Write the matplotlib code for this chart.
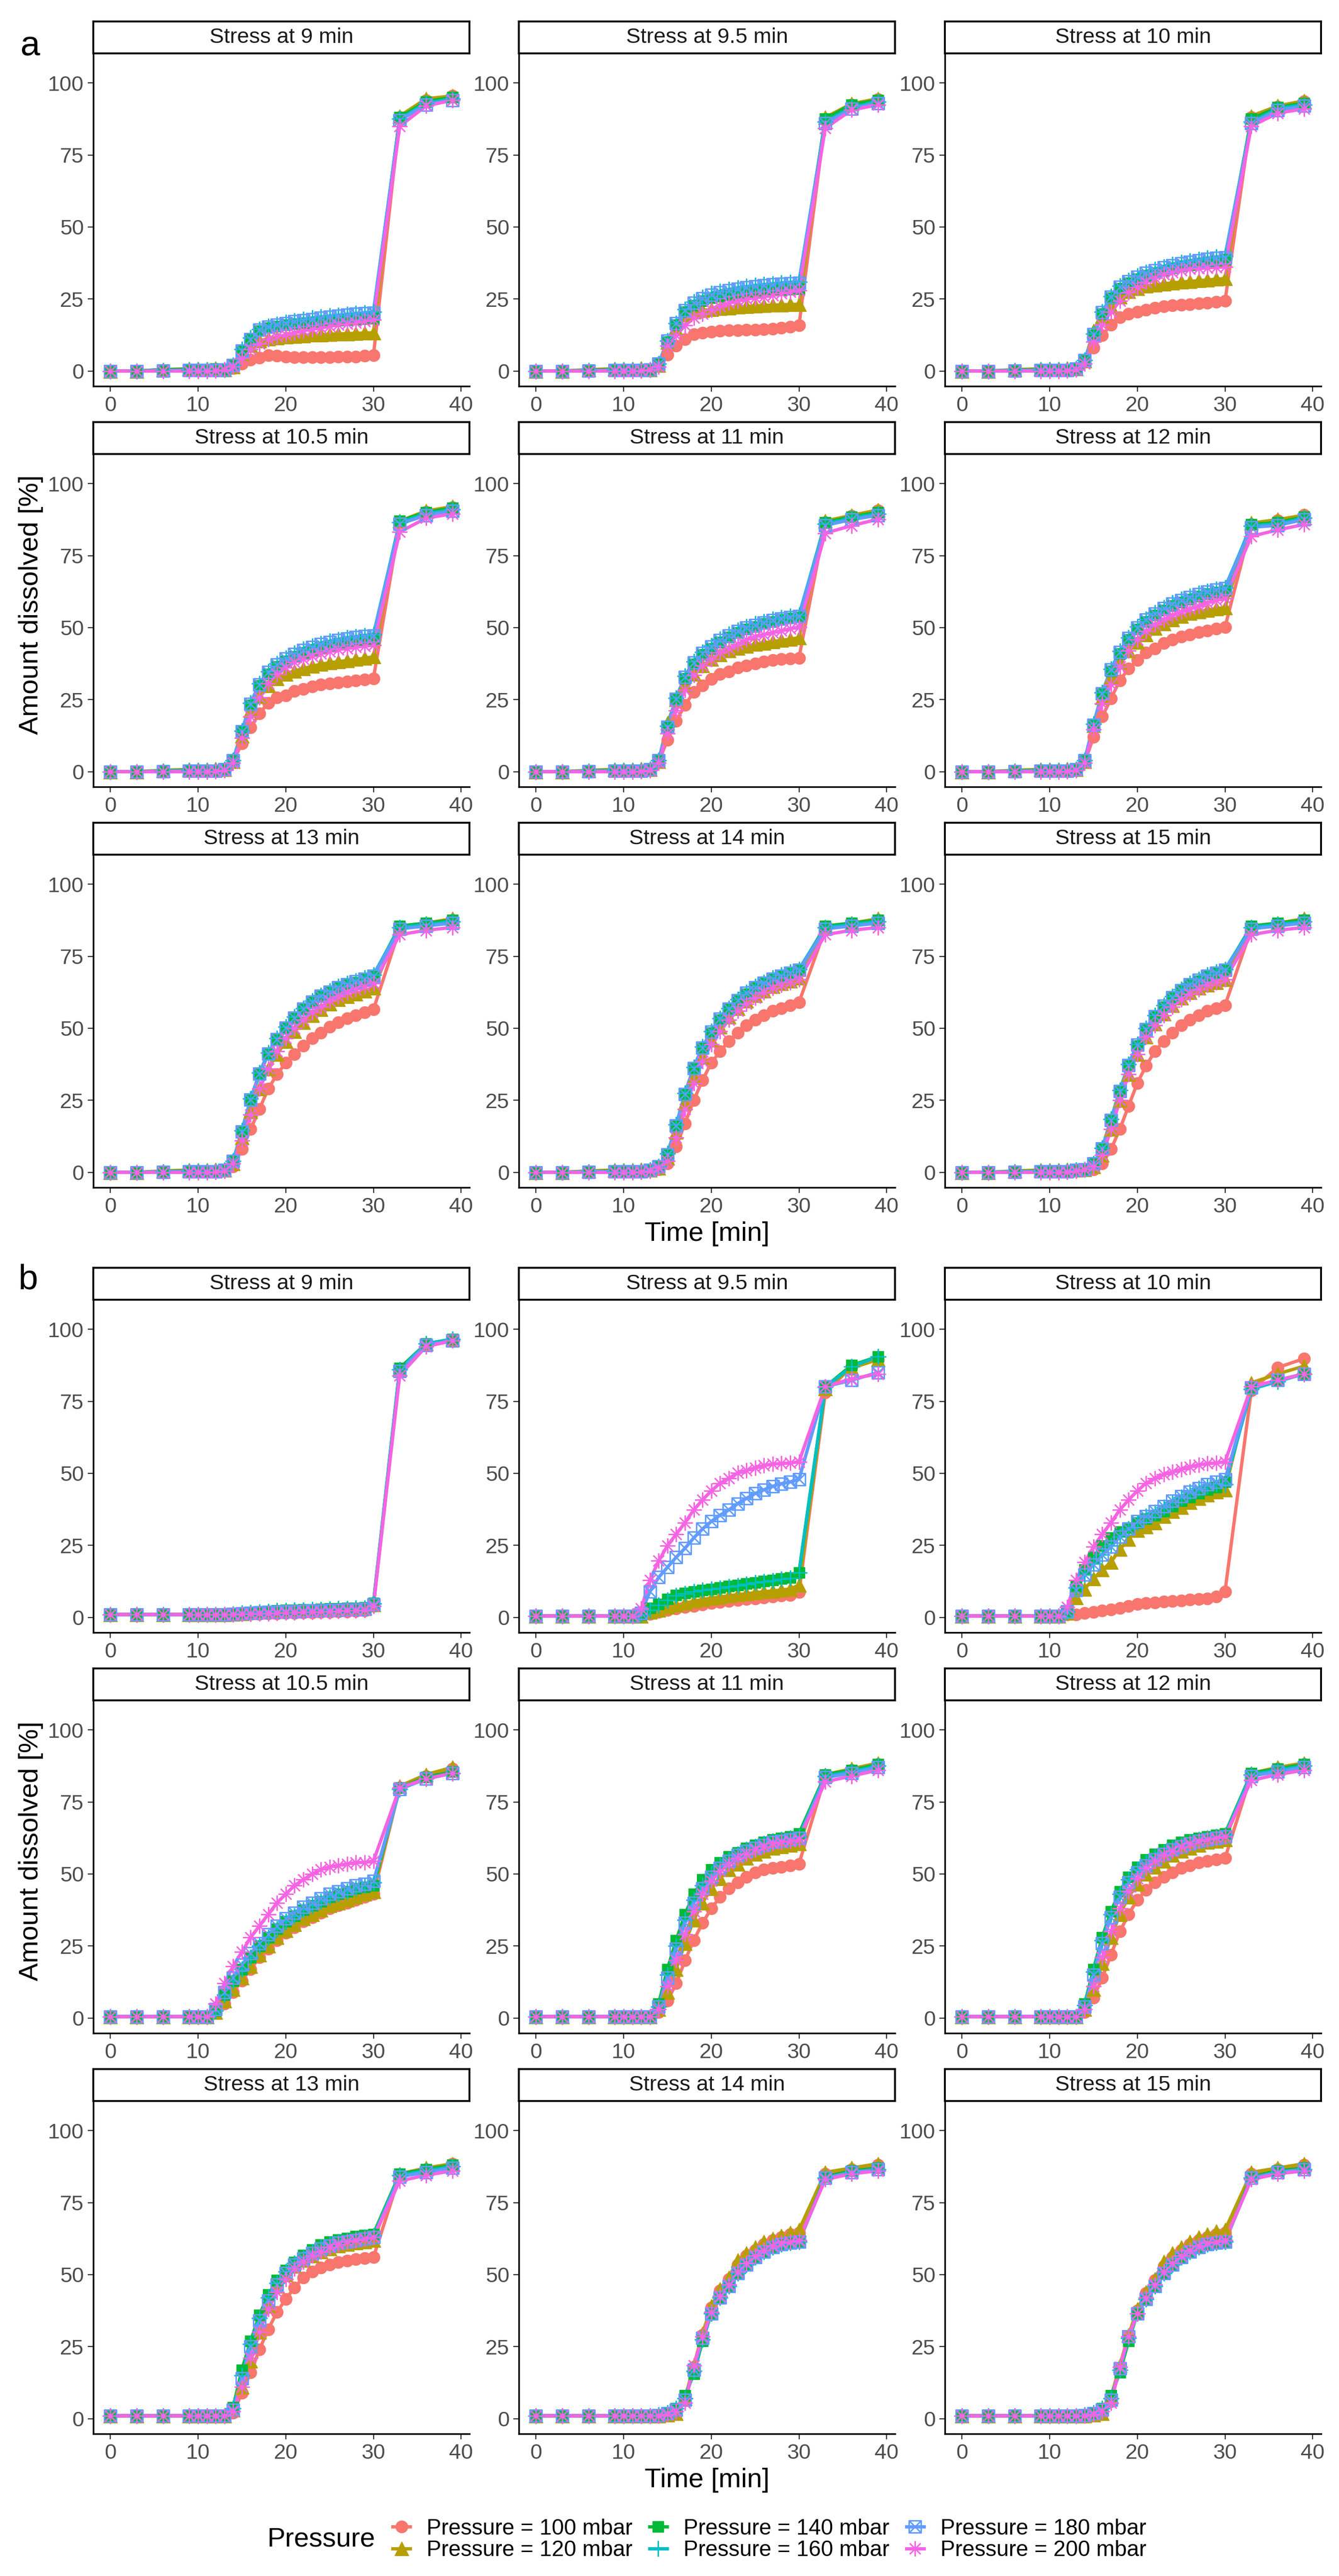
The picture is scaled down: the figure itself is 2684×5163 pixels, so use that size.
import matplotlib
matplotlib.use('Agg')
import matplotlib.pyplot as plt
from matplotlib.path import Path
from matplotlib.lines import Line2D

plt.rcParams['font.family'] = ['Liberation Sans', 'DejaVu Sans']

# sampling times [min]
time = [0, 3, 6, 9, 10, 11, 12, 13, 14, 15, 16, 17, 18, 19, 20, 21, 22, 23, 24,
        25, 26, 27, 28, 29, 30, 33, 36, 39]

pressures = ['Pressure = 100 mbar', 'Pressure = 120 mbar', 'Pressure = 140 mbar',
             'Pressure = 160 mbar', 'Pressure = 180 mbar', 'Pressure = 200 mbar']
colors = ['#F8766D', '#B79F00', '#00BA38', '#00BFC4', '#619CFF', '#F564E3']
stress_times = ['9', '9.5', '10', '10.5', '11', '12', '13', '14', '15']

# ---- block a: one list per pressure (100 ... 200 mbar) ----
a_9 = [
    [0, 0, 0.3, 0.5, 0.5, 0.5, 0.5, 0.5, 1, 2.5, 3.9, 4.6, 5.4, 5.3, 5.0, 4.8, 4.8, 4.8, 4.8, 4.8, 4.9, 5.0, 5.0, 5.3, 5.4, 88, 94, 95.5],
    [0, 0, 0.5, 0.8, 0.8, 0.8, 1, 0.5, 1.5, 6, 9, 10.5, 11.2, 11.6, 11.9, 12.1, 12.3, 12.5, 12.6, 12.8, 12.9, 13, 13.1, 13.2, 13.3, 88.5, 94.5, 95.5],
    [0, 0, 0.5, 0.6, 0.6, 0.6, 0.8, 0.6, 2, 7, 11, 14, 15, 15.5, 16, 16.4, 16.8, 17, 17.2, 17.4, 17.6, 17.8, 18, 18.1, 18.3, 88, 93.5, 95],
    [0, 0, 0.2, 0.3, 0.3, 0.3, 0.3, 0.5, 2, 7.5, 11.5, 14.5, 15.5, 16.3, 17, 17.5, 18, 18.4, 18.8, 19.1, 19.4, 19.7, 20, 20.2, 20.5, 87.5, 93, 94.5],
    [0, 0, 0.2, 0.3, 0.3, 0.3, 0.3, 0.5, 2, 7, 11, 14.3, 15.3, 16, 16.6, 17.2, 17.6, 18, 18.4, 18.8, 19.2, 19.5, 19.8, 20, 20.2, 87, 92.5, 94],
    [0, 0, 0, 0, 0, 0, 0.2, 0.5, 1.5, 4.5, 7.5, 9.5, 11, 12, 12.5, 13.3, 14, 14.5, 15, 15.5, 16, 16.4, 16.8, 17.3, 17.8, 85, 92, 94],
]
a_9_5 = [
    [0, 0, 0.3, 0.5, 0.5, 0.5, 0.5, 0.5, 2, 5.6, 8.7, 11, 12.8, 13.2, 13.7, 13.9, 14.1, 14.2, 14.3, 14.3, 14.5, 14.7, 15, 15.4, 15.8, 87.3, 92.4, 94.3],
    [0, 0, 0.5, 0.8, 0.8, 0.8, 1, 0.5, 2, 10, 14.7, 19.5, 20.5, 21, 21.4, 21.7, 22, 22.2, 22.4, 22.6, 22.8, 22.9, 23, 23.1, 23.2, 88, 92.8, 94.5],
    [0, 0, 0.3, 0.5, 0.5, 0.5, 0.5, 0.5, 2.5, 10.2, 16, 20.5, 22.8, 24.3, 25.4, 26, 26.5, 26.9, 27.2, 27.5, 27.8, 28, 28.2, 28.4, 28.6, 87.5, 92.5, 94],
    [0, 0, 0.2, 0.3, 0.3, 0.3, 0.3, 0.5, 2.5, 10.5, 16.5, 21.5, 24, 25.5, 26.9, 27.7, 28.3, 28.9, 29.3, 29.7, 30, 30.3, 30.6, 30.8, 31, 86.5, 91.5, 93.5],
    [0, 0, 0.2, 0.3, 0.3, 0.3, 0.3, 0.5, 2.5, 10.5, 16.5, 21, 23.6, 25.2, 26.5, 27.3, 28, 28.6, 29, 29.4, 29.7, 30, 30.3, 30.5, 30.6, 86, 91, 93],
    [0, 0, 0, 0, 0, 0, 0.2, 0.5, 1.5, 8.7, 12.4, 15.8, 18.4, 19.9, 21.3, 22.5, 23.6, 24.3, 25, 25.4, 25.8, 26.3, 26.9, 27.4, 28, 84.3, 90.6, 92.4],
]
a_10 = [
    [0, 0, 0.3, 0.5, 0.5, 0.5, 0.5, 0.5, 3.5, 8, 12.4, 16.1, 18.7, 19.9, 20.6, 21.3, 22, 22.4, 22.8, 23, 23.2, 23.5, 23.7, 24, 24.3, 88, 91.7, 93.6],
    [0, 0, 0.5, 0.8, 0.8, 0.8, 1, 0.8, 3.5, 14, 19, 22.4, 25.8, 27.6, 28.7, 29.5, 29.9, 30.3, 30.6, 30.9, 31.1, 31.4, 31.6, 31.9, 32.1, 88.5, 92, 93.8],
    [0, 0, 0.3, 0.5, 0.5, 0.5, 0.5, 0.8, 3.5, 12.4, 19.9, 25.4, 28.7, 30.6, 31.9, 33.2, 34.1, 35, 35.8, 36.4, 36.9, 37.4, 37.8, 38.3, 38.7, 87.5, 91.5, 93],
    [0, 0, 0.2, 0.3, 0.3, 0.3, 0.3, 0.8, 3.8, 13, 20.5, 26, 29.5, 31.5, 33, 34.3, 35.3, 36.2, 37, 37.7, 38.3, 38.8, 39.2, 39.6, 39.9, 86.5, 91, 92.5],
    [0, 0, 0.2, 0.3, 0.3, 0.3, 0.3, 0.8, 3.8, 12.8, 20.3, 25.8, 29.2, 31.2, 32.7, 34, 35, 35.9, 36.6, 37.3, 37.9, 38.4, 38.9, 39.2, 39.5, 86, 90.5, 92],
    [0, 0, 0, 0, 0, 0, 0.2, 0.5, 2.5, 10.2, 16.1, 20.6, 24.3, 27.3, 29.1, 30.9, 32.4, 33.5, 34.3, 34.9, 35.4, 35.6, 35.8, 36, 36.1, 85, 89.5, 91],
]
a_10_5 = [
    [0, 0, 0.3, 0.5, 0.5, 0.5, 0.5, 0.5, 3.5, 9.9, 15.4, 20.2, 23.9, 25.8, 26.5, 28, 28.7, 29.5, 30.2, 30.6, 31, 31.3, 31.7, 32, 32.4, 86.5, 90.2, 91.7],
    [0, 0, 0.5, 0.8, 0.8, 0.8, 1, 0.8, 3.5, 12.4, 21.3, 26.1, 29.9, 32.4, 33.9, 35, 35.8, 36.6, 37.3, 37.8, 38.2, 38.6, 39, 39.4, 39.9, 87, 90.5, 92],
    [0, 0, 0.3, 0.5, 0.5, 0.5, 0.5, 0.8, 4, 13.9, 23.2, 29.9, 33.9, 36.5, 38.4, 39.9, 41.3, 42.3, 43.2, 43.8, 44.4, 44.9, 45.4, 45.8, 46.1, 87, 90, 91.5],
    [0, 0, 0.2, 0.3, 0.3, 0.3, 0.3, 0.8, 4, 14.2, 23.8, 30.6, 34.8, 37.5, 39.5, 41.1, 42.5, 43.6, 44.5, 45.3, 45.9, 46.5, 46.9, 47.3, 47.6, 86.5, 89.5, 91],
    [0, 0, 0.2, 0.3, 0.3, 0.3, 0.3, 0.8, 4, 14, 23.5, 30.3, 34.5, 37.2, 39.2, 40.8, 42.2, 43.3, 44.2, 45, 45.6, 46.2, 46.7, 47, 47.3, 86, 89, 90.5],
    [0, 0, 0, 0, 0, 0, 0.2, 0.5, 3, 11.7, 19.1, 25.8, 30.6, 33.9, 36.1, 38, 39.1, 40.1, 41, 41.7, 42.4, 42.8, 43.2, 43.6, 43.9, 83.2, 88, 89.5],
]
a_11 = [
    [0, 0, 0.3, 0.5, 0.5, 0.5, 0.5, 0.5, 3.5, 11, 17.6, 23.2, 27.6, 29.9, 32.1, 33.9, 34.8, 36.1, 36.9, 37.6, 38.2, 38.7, 39, 39.3, 39.5, 86.5, 88.7, 90.6],
    [0, 0, 0.5, 0.8, 0.8, 0.8, 1, 0.8, 3.5, 16.9, 25, 30.2, 33.9, 36.9, 39.1, 40.6, 42.1, 42.9, 43.6, 44.2, 44.7, 45.2, 45.6, 46, 46.5, 87, 89, 90.8],
    [0, 0, 0.3, 0.5, 0.5, 0.5, 0.5, 0.8, 4, 15.4, 25, 32.4, 37.3, 40.6, 42.8, 45, 46.7, 48.2, 49.5, 50.4, 51.3, 52, 52.7, 53.2, 53.6, 86.5, 88.5, 90],
    [0, 0, 0.2, 0.3, 0.3, 0.3, 0.3, 0.8, 4, 15.8, 25.6, 33.2, 38.2, 41.5, 43.8, 46, 47.7, 49.1, 50.4, 51.3, 52.1, 52.9, 53.5, 54, 54.3, 86, 88, 89.5],
    [0, 0, 0.2, 0.3, 0.3, 0.3, 0.3, 0.8, 4, 15.6, 25.3, 32.8, 37.8, 41.1, 43.4, 45.6, 47.3, 48.7, 50, 50.9, 51.8, 52.5, 53.1, 53.6, 53.9, 85.5, 87.5, 89],
    [0, 0, 0, 0, 0, 0, 0.2, 0.5, 3, 13.2, 21.3, 28.4, 33.6, 36.9, 39.1, 41.3, 42.8, 44.3, 45.8, 46.9, 47.6, 48.3, 48.9, 49.6, 50.2, 82.8, 85.4, 87.6],
]
a_12 = [
    [0, 0, 0.3, 0.5, 0.5, 0.5, 0.5, 0.5, 3.2, 12.1, 19.1, 25.4, 31.7, 35.8, 38.7, 41.3, 42.8, 44.7, 45.8, 46.9, 47.6, 48.4, 49, 49.6, 50.2, 85.8, 87.3, 89.1],
    [0, 0, 0.5, 0.8, 0.8, 0.8, 1, 0.8, 3.5, 16.1, 25.8, 32.8, 38, 42.1, 45, 47.6, 49.9, 51.4, 52.8, 54, 55, 55.6, 56.1, 56.6, 57, 86.3, 87.5, 89],
    [0, 0, 0.3, 0.5, 0.5, 0.5, 0.5, 0.8, 4, 16.1, 26.9, 35, 41, 45.8, 49.5, 52.1, 54.3, 56.1, 57.6, 58.8, 59.9, 60.9, 61.7, 62.3, 62.8, 85.8, 86.5, 88.4],
    [0, 0, 0.2, 0.3, 0.3, 0.3, 0.3, 0.8, 4, 16.5, 27.5, 35.7, 41.8, 46.6, 50.3, 53, 55.2, 57, 58.6, 59.8, 60.9, 61.9, 62.7, 63.4, 63.9, 85.3, 86, 88],
    [0, 0, 0.2, 0.3, 0.3, 0.3, 0.3, 0.8, 4, 16.3, 27.2, 35.4, 41.5, 46.3, 50, 52.7, 54.9, 56.7, 58.3, 59.5, 60.6, 61.6, 62.4, 63.1, 63.6, 84.8, 85.5, 87.5],
    [0, 0, 0, 0, 0, 0, 0.2, 0.5, 3, 14.7, 23.6, 30.2, 36.5, 42.1, 45.8, 48.7, 51, 52.8, 54.3, 55.5, 56.5, 57.5, 58.7, 59.5, 60.2, 81.7, 83.9, 85.8],
]
a_13 = [
    [0, 0, 0.3, 0.5, 0.5, 0.5, 0.5, 0.5, 2, 8, 15, 22, 29, 34, 38, 41, 44, 46.5, 48.5, 50.5, 52, 53.5, 54.5, 55.5, 56.5, 84.5, 86, 87.5],
    [0, 0, 0.5, 0.8, 0.8, 0.8, 1, 0.8, 3, 12, 21, 29, 36, 41, 45.5, 49, 52, 54.5, 56.5, 58.5, 60, 61, 62, 63, 64, 85, 86.5, 88],
    [0, 0, 0.3, 0.5, 0.5, 0.5, 0.5, 0.8, 4, 14, 25, 34, 41, 46, 50, 53.5, 56.5, 59, 61, 62.5, 64, 65, 66, 67, 68, 85.5, 86.5, 87.5],
    [0, 0, 0.2, 0.3, 0.3, 0.3, 0.3, 0.8, 4, 14.5, 25.5, 34.5, 41.5, 46.5, 50.5, 54, 57, 59.5, 61.5, 63, 64.5, 65.5, 66.5, 67.5, 68.5, 85, 86, 87],
    [0, 0, 0.2, 0.3, 0.3, 0.3, 0.3, 0.8, 4, 14.2, 25.2, 34.2, 41.2, 46.2, 50.2, 53.7, 56.7, 59.2, 61.2, 62.7, 64.2, 65.2, 66.2, 67.2, 68.2, 84.5, 85.5, 86.5],
    [0, 0, 0, 0, 0, 0, 0.2, 0.5, 3, 11, 20, 29, 36, 42, 46.5, 50, 53, 55.5, 57.5, 59.5, 61, 62.5, 63.5, 64.5, 65.5, 82.5, 84, 85],
]
a_14 = [
    [0, 0, 0.3, 0.5, 0.5, 0.5, 0.5, 0.5, 1, 3, 9, 17, 25, 32, 38, 42, 45.5, 48.5, 51, 53, 54.5, 56, 57, 58, 59, 84.5, 86, 87.5],
    [0, 0, 0.5, 0.8, 0.8, 0.8, 1, 0.8, 1.5, 5, 14, 24, 33, 40, 46, 50.5, 54, 57, 59.5, 61.5, 63, 64.5, 65.5, 66.5, 67.5, 85, 86.5, 88],
    [0, 0, 0.3, 0.5, 0.5, 0.5, 0.5, 0.8, 2, 6, 16, 27, 36, 43, 48.5, 53, 56.5, 59.5, 62, 64, 65.5, 67, 68, 69, 70, 85.5, 86.5, 87.5],
    [0, 0, 0.2, 0.3, 0.3, 0.3, 0.3, 0.8, 2, 6.5, 16.5, 27.5, 36.5, 43.5, 49, 53.5, 57, 60, 62.5, 64.5, 66, 67.5, 68.5, 69.5, 70.5, 85, 86, 87],
    [0, 0, 0.2, 0.3, 0.3, 0.3, 0.3, 0.8, 2, 6.2, 16.2, 27.2, 36.2, 43.2, 48.7, 53.2, 56.7, 59.7, 62.2, 64.2, 65.7, 67.2, 68.2, 69.2, 70.2, 84.5, 85.5, 86.5],
    [0, 0, 0, 0, 0, 0, 0.2, 0.5, 1.5, 4, 12, 22, 31, 38.5, 44.5, 49, 53, 56, 58.5, 60.5, 62.5, 64, 65, 66, 67, 82.5, 84, 85],
]
a_15 = [
    [0, 0, 0.3, 0.5, 0.5, 0.5, 0.5, 0.5, 0.8, 1, 3, 8, 15, 23, 31, 37, 42, 45.5, 48.5, 51, 53, 54.5, 56, 57, 58, 84.5, 86, 87.5],
    [0, 0, 0.5, 0.8, 0.8, 0.8, 1, 0.8, 1, 2, 6, 15, 25, 34, 41, 47, 51.5, 55, 58, 60.5, 62.5, 64, 65, 66, 67, 85, 86.5, 88],
    [0, 0, 0.3, 0.5, 0.5, 0.5, 0.5, 0.8, 1, 3, 8, 18, 28, 37, 44, 49.5, 54, 57.5, 60.5, 63, 65, 66.5, 68, 69, 70, 85.5, 86.5, 87.5],
    [0, 0, 0.2, 0.3, 0.3, 0.3, 0.3, 0.8, 1, 3, 8.5, 18.5, 28.5, 37.5, 44.5, 50, 54.5, 58, 61, 63.5, 65.5, 67, 68.5, 69.5, 70.5, 85, 86, 87],
    [0, 0, 0.2, 0.3, 0.3, 0.3, 0.3, 0.8, 1, 3, 8.2, 18.2, 28.2, 37.2, 44.2, 49.7, 54.2, 57.7, 60.7, 63.2, 65.2, 66.7, 68.2, 69.2, 70.2, 84.5, 85.5, 86.5],
    [0, 0, 0, 0, 0, 0, 0.2, 0.5, 1, 2, 6, 15, 25, 34, 41, 47, 51, 54.5, 57.5, 60, 62, 63.5, 65, 66, 67, 82.5, 84, 85],
]

# ---- block b ----
b_9 = [
    [1, 1, 1, 1, 1, 1, 1, 1, 1, 1, 1.1, 1.2, 1.3, 1.4, 1.5, 1.5, 1.6, 1.7, 1.8, 1.9, 2, 2.1, 2.2, 2.3, 4, 86, 94.5, 96],
    [1, 1, 1, 1, 1, 1, 1, 1, 1.2, 1.4, 1.6, 1.8, 2, 2.2, 2.3, 2.4, 2.5, 2.6, 2.7, 2.8, 2.9, 3, 3.1, 3.2, 4.5, 86, 95, 96.5],
    [1, 1, 1, 1, 1, 1, 1, 1, 1.3, 1.6, 1.8, 2, 2.2, 2.4, 2.5, 2.6, 2.7, 2.8, 2.9, 3, 3.1, 3.2, 3.3, 3.4, 5, 86.5, 95, 96.5],
    [1, 1, 1, 1, 1, 1, 1, 1, 1.2, 1.5, 1.7, 1.9, 2.1, 2.3, 2.4, 2.5, 2.6, 2.7, 2.8, 2.9, 3, 3.1, 3.2, 3.3, 4.8, 86, 95, 96.5],
    [1, 1, 1, 1, 1, 1, 1, 1, 1.1, 1.3, 1.5, 1.6, 1.8, 1.9, 2, 2.1, 2.2, 2.3, 2.4, 2.5, 2.6, 2.7, 2.8, 2.9, 4.5, 85.5, 94.5, 96],
    [1, 1, 1, 1, 1, 1, 1, 1, 1, 1.1, 1.2, 1.3, 1.4, 1.5, 1.6, 1.7, 1.8, 1.9, 2, 2.1, 2.2, 2.3, 2.4, 2.5, 4, 84, 94, 96],
]
b_9_5 = [
    [0.5, 0.5, 0.5, 0.5, 0.5, 0.5, 0.5, 1.2, 1.8, 2.5, 3, 3.5, 4, 4.5, 5, 5.3, 5.6, 6, 6.3, 6.6, 6.9, 7.2, 7.5, 7.8, 8.7, 78, 87, 89.5],
    [0.5, 0.5, 0.5, 0.5, 0.5, 0.5, 0.5, 1.8, 2.6, 3.5, 4.2, 5, 5.6, 6.2, 6.7, 7.1, 7.5, 7.9, 8.2, 8.6, 8.9, 9.2, 9.5, 9.9, 11.2, 79.5, 86.5, 89.5],
    [0.5, 0.5, 0.5, 0.5, 0.5, 0.5, 1, 3.3, 4.6, 6.4, 7.7, 8.4, 9, 9.5, 9.9, 10.3, 10.8, 11.2, 11.7, 12.1, 12.5, 12.9, 13.4, 13.8, 15.6, 80, 87.5, 90.5],
    [0.5, 0.5, 0.5, 0.5, 0.5, 0.5, 1, 2.5, 4.2, 6, 7.5, 8.3, 8.9, 9.4, 9.8, 10.2, 10.7, 11.1, 11.6, 12, 12.4, 12.8, 13.3, 13.7, 15.5, 80, 87, 90.5],
    [0.5, 0.5, 0.5, 0.5, 0.5, 0.5, 1.5, 9, 13.9, 17.4, 20.9, 24, 27.6, 30.7, 33.3, 35.5, 37.3, 39.5, 41.3, 43, 44.3, 45.5, 46.4, 47, 47.9, 80.1, 82.3, 85],
    [0.5, 0.5, 0.5, 0.5, 0.5, 0.5, 3, 13, 19.6, 24.9, 28.9, 32.9, 37.3, 40.8, 43.9, 46.6, 48.3, 50.1, 51, 51.9, 52.7, 53.2, 53.4, 53.6, 54, 80.1, 82.8, 84.5],
]
b_10 = [
    [0.5, 0.5, 0.5, 0.5, 0.5, 0.5, 1, 1, 1.5, 1.9, 2.4, 2.8, 3.3, 3.9, 4.6, 4.9, 5.2, 5.5, 5.7, 5.9, 6.1, 6.4, 6.6, 7.2, 9, 78.8, 86.7, 89.8],
    [0.5, 0.5, 0.5, 0.5, 0.5, 0.5, 1.5, 6.8, 9.9, 13.4, 16.5, 19.2, 23.6, 27.1, 30.2, 31.5, 32.9, 35.1, 36.8, 38.2, 39.9, 41.3, 42.6, 43.5, 44.3, 81.4, 84.5, 87.2],
    [0.5, 0.5, 0.5, 0.5, 0.5, 0.5, 2, 10.8, 16.5, 20.9, 24.9, 27.6, 29.8, 31.1, 32.9, 34.2, 35.5, 36.8, 38.6, 40.4, 41.7, 43, 44.3, 45.2, 47, 79.7, 82.3, 84.5],
    [0.5, 0.5, 0.5, 0.5, 0.5, 0.5, 2, 10.3, 14.8, 18.7, 21.8, 24.9, 28, 30.7, 32.9, 35.1, 36.4, 38.2, 39.9, 41.7, 43.5, 44.8, 45.7, 46.4, 46.1, 79.2, 81.9, 84.5],
    [0.5, 0.5, 0.5, 0.5, 0.5, 0.5, 2, 9.5, 14.8, 18.3, 21.8, 24.5, 28, 30.7, 33.3, 35.1, 36.8, 38.6, 40.4, 42.1, 43.5, 44.8, 46.1, 47, 47.9, 79.7, 82.3, 84.5],
    [0.5, 0.5, 0.5, 0.5, 0.5, 0.5, 3.5, 13, 19.2, 24.5, 28.9, 32.9, 37.3, 40.8, 43.9, 46.6, 48.3, 49.6, 50.5, 51.4, 52.3, 52.9, 53.4, 53.6, 54, 80.1, 82.3, 84.5],
]
b_10_5 = [
    [0.5, 0.5, 0.5, 0.5, 0.5, 0.5, 2, 5, 9, 13, 17, 21, 24, 27, 29.5, 31.5, 33.5, 35, 36.5, 38, 39, 40, 41, 42, 43, 80, 84, 86.5],
    [0.5, 0.5, 0.5, 0.5, 0.5, 0.5, 2, 6, 10, 14, 18, 22, 25, 28, 30.5, 32.5, 34.5, 36, 37.5, 39, 40, 41, 42, 43, 44, 80.5, 84.5, 87],
    [0.5, 0.5, 0.5, 0.5, 0.5, 0.5, 2.5, 8, 13, 17, 21, 25, 28, 31, 33.5, 35.5, 37.5, 39, 40.5, 42, 43, 44, 45, 45.5, 46, 80, 83.5, 85.5],
    [0.5, 0.5, 0.5, 0.5, 0.5, 0.5, 2.5, 8, 13, 17, 21, 25, 28, 31, 33.5, 35.5, 37.5, 39, 40.5, 42, 43, 44, 45, 46, 47, 79.5, 83, 85],
    [0.5, 0.5, 0.5, 0.5, 0.5, 0.5, 3, 9, 14, 18.5, 22.5, 26, 29, 32, 34.5, 36.5, 38.5, 40, 41.5, 43, 44, 45, 46, 46.5, 47.5, 79.5, 83, 85],
    [0.5, 0.5, 0.5, 0.5, 0.5, 0.5, 5, 12, 18, 23, 28, 32, 36, 40, 43, 46, 48, 50, 51.5, 52.5, 53, 53.5, 54, 54, 54.5, 80, 83, 85],
]
b_11 = [
    [0.5, 0.5, 0.5, 0.5, 0.5, 0.5, 0.5, 0.5, 2, 6, 12, 20, 27, 33, 38, 42, 45, 47, 49, 50.5, 51.5, 52, 52.5, 53, 53.5, 84, 86, 88],
    [0.5, 0.5, 0.5, 0.5, 0.5, 0.5, 0.5, 0.5, 3, 9, 17, 26, 34, 40, 45, 48.5, 51.5, 53.5, 55.5, 57, 58, 59, 59.5, 60, 60.5, 84.5, 86.5, 88.5],
    [0.5, 0.5, 0.5, 0.5, 0.5, 0.5, 0.5, 0.5, 5, 17, 27, 36, 43, 48, 51.5, 54, 56, 57.5, 59, 60, 61, 62, 62.5, 63, 64, 84.5, 86, 88],
    [0.5, 0.5, 0.5, 0.5, 0.5, 0.5, 0.5, 0.5, 4, 15, 25, 34, 41, 46, 50, 53, 55, 57, 58.5, 59.5, 60.5, 61.5, 62, 62.5, 63, 84, 85.5, 87.5],
    [0.5, 0.5, 0.5, 0.5, 0.5, 0.5, 0.5, 0.5, 4, 14, 24, 33, 40, 45, 49, 52, 54.5, 56.5, 58, 59, 60, 61, 61.5, 62, 62.5, 83.5, 85, 87],
    [0.5, 0.5, 0.5, 0.5, 0.5, 0.5, 0.5, 0.5, 3, 11, 20, 29, 37, 43, 47.5, 51, 53.5, 55.5, 57, 58.5, 59.5, 60.5, 61, 61.5, 62, 82, 84, 86],
]
b_12 = [
    [0.5, 0.5, 0.5, 0.5, 0.5, 0.5, 0.5, 0.5, 2, 7, 14, 22, 30, 36, 41, 44.5, 47, 49, 50.5, 52, 53, 54, 54.5, 55, 55.5, 84.5, 86.5, 88],
    [0.5, 0.5, 0.5, 0.5, 0.5, 0.5, 0.5, 0.5, 3, 10, 19, 28, 36, 42, 46.5, 50, 52.5, 54.5, 56.5, 58, 59, 60, 61, 61.5, 62, 85, 87, 88.5],
    [0.5, 0.5, 0.5, 0.5, 0.5, 0.5, 0.5, 0.5, 5, 17, 28, 37, 44, 49, 52.5, 55, 57, 58.5, 60, 61, 62, 62.5, 63, 63.5, 64, 85, 86.5, 88],
    [0.5, 0.5, 0.5, 0.5, 0.5, 0.5, 0.5, 0.5, 4.5, 16, 27, 36, 43, 48, 51.5, 54, 56, 57.5, 59, 60, 61, 62, 62.5, 63, 63.5, 84.5, 86, 87.5],
    [0.5, 0.5, 0.5, 0.5, 0.5, 0.5, 0.5, 0.5, 4, 15, 26, 35, 42, 47, 50.5, 53, 55, 57, 58.5, 59.5, 60.5, 61.5, 62, 62.5, 63, 84, 85.5, 87],
    [0.5, 0.5, 0.5, 0.5, 0.5, 0.5, 0.5, 0.5, 3, 11, 21, 30, 38, 44, 48.5, 52, 54.5, 56.5, 58, 59.5, 60.5, 61.5, 62, 62.5, 63, 82.5, 84.5, 86],
]
b_13 = [
    [1, 1, 1, 1, 1, 1, 1, 1, 2, 9, 16, 24, 31, 37, 41.5, 45.5, 49, 51, 52.5, 53.5, 54.3, 54.8, 55.3, 55.7, 56, 84.5, 86.5, 88.5],
    [1, 1, 1, 1, 1, 1, 1, 1, 3, 11, 20, 30, 39, 46, 50, 53, 55, 56.5, 58, 59, 60, 60.5, 61, 61.5, 62, 85, 87, 88.5],
    [1, 1, 1, 1, 1, 1, 1, 1, 4, 17, 27, 36, 43, 48, 51.5, 54.4, 56.7, 58.7, 60.3, 61.4, 62.1, 62.6, 63.3, 63.7, 64.1, 85, 86.5, 88],
    [1, 1, 1, 1, 1, 1, 1, 1, 3.5, 15, 26, 35, 42, 47, 51, 54, 56, 58, 59.5, 60.5, 61.5, 62, 62.5, 63, 63.5, 84.5, 86, 87.5],
    [1, 1, 1, 1, 1, 1, 1, 1, 3, 14, 25, 34, 41, 46.5, 50.5, 53.5, 55.5, 57.5, 59, 60, 61, 61.5, 62, 62.5, 63, 84, 85.5, 87],
    [1, 1, 1, 1, 1, 1, 1, 1, 2.5, 11, 21, 30, 38, 44, 48.5, 52, 54.5, 56.5, 58, 59.5, 60.5, 61.5, 62, 62.5, 63, 82.5, 84.5, 86],
]
b_14 = [
    [1, 1, 1, 1, 1, 1, 1, 1, 1, 1.2, 1.5, 6.5, 18, 29, 38.5, 44.5, 48.5, 53.5, 56.5, 58.5, 60.5, 62, 63, 64, 64.5, 85, 86.5, 88],
    [1, 1, 1, 1, 1, 1, 1, 1, 1, 1.3, 1.8, 7, 18.5, 29.5, 39, 45, 49, 55, 57.5, 59.5, 61.5, 62.5, 63.5, 64.5, 65.5, 85.5, 87, 88.5],
    [1, 1, 1, 1, 1, 1, 1, 1, 1.3, 2, 3.5, 8, 15.5, 27, 36.5, 42, 46, 50.5, 53.5, 56, 58, 59.5, 60.5, 61, 61.5, 84, 86, 87],
    [1, 1, 1, 1, 1, 1, 1, 1, 1.3, 2, 3.5, 7, 16.5, 27.5, 36.5, 42, 46, 50.5, 53.5, 56, 58, 59.5, 60.5, 61, 61.5, 83.5, 85.5, 86.5],
    [1, 1, 1, 1, 1, 1, 1, 1, 1.2, 1.8, 3, 6.5, 17, 28, 36.5, 42, 46, 50.5, 53.5, 56, 58, 59.5, 60.5, 61, 61.5, 83.5, 85.5, 86.5],
    [1, 1, 1, 1, 1, 1, 1, 1, 1, 1.5, 2.5, 5.5, 18.5, 28.5, 37, 42.5, 46.5, 51, 54, 56.5, 58.5, 60, 61, 61.5, 62, 83, 85, 86],
]
b_15 = [
    [1, 1, 1, 1, 1, 1, 1, 1, 1, 1.2, 1.5, 6, 17.5, 28.5, 37.5, 43.5, 48, 53, 56, 58.5, 60.5, 62, 63, 64, 64.5, 85, 86.5, 88],
    [1, 1, 1, 1, 1, 1, 1, 1, 1, 1.3, 1.8, 7.5, 18.5, 29, 38, 44, 48.5, 54.5, 57.5, 59.5, 61.5, 63, 64, 65, 65.5, 85.5, 87, 88.5],
    [1, 1, 1, 1, 1, 1, 1, 1, 1.3, 2, 3.5, 8, 16, 27, 36.5, 41.5, 46, 50.5, 53.5, 56, 58, 59.5, 60.5, 61, 61.5, 84, 86, 87],
    [1, 1, 1, 1, 1, 1, 1, 1, 1.3, 2, 3.5, 7, 17, 28, 36.5, 41.5, 46, 50.5, 53.5, 56, 58, 59.5, 60.5, 61, 61.5, 83.5, 85.5, 86.5],
    [1, 1, 1, 1, 1, 1, 1, 1, 1.2, 1.8, 3, 6.5, 17.5, 28.5, 36.5, 41.5, 46, 50.5, 53.5, 56, 58, 59.5, 60.5, 61, 61.5, 83.5, 85.5, 86.5],
    [1, 1, 1, 1, 1, 1, 1, 1, 1, 1.5, 2.5, 5.5, 18, 28.5, 36.5, 42, 46.5, 51, 54, 56.5, 58.5, 60, 61, 61.5, 62, 83, 85, 86],
]

block_a = [a_9, a_9_5, a_10, a_10_5, a_11, a_12, a_13, a_14, a_15]
block_b = [b_9, b_9_5, b_10, b_10_5, b_11, b_12, b_13, b_14, b_15]

# ggplot-like shapes 16, 17, 15, 3, 7, 8
M, L, C = Path.MOVETO, Path.LINETO, Path.CLOSEPOLY
box_x = Path([(-1, -1), (1, -1), (1, 1), (-1, 1), (-1, -1), (-1, -1), (1, 1), (-1, 1), (1, -1)],
             [M, L, L, L, C, M, L, M, L])
d = 0.7071
aster = Path([(0, -1), (0, 1), (-1, 0), (1, 0), (-d, -d), (d, d), (-d, d), (d, -d)],
             [M, L, M, L, M, L, M, L])
marker_styles = [
    dict(marker='o', ms=5.8, mew=0.3),
    dict(marker='^', ms=6.6, mew=0.3),
    dict(marker='s', ms=5.2, mew=0.3),
    dict(marker='+', ms=7.8, mew=0.7),
    dict(marker=box_x, ms=5.8, mfc='none', mew=0.7),
    dict(marker=aster, ms=7.4, mfc='none', mew=0.7),
]
line_w = 1.6

W, H = 2684, 5163
DPI = 300
fig = plt.figure(figsize=(W / DPI, H / DPI), dpi=DPI)


def px_axes(left, top, width, height):
    return fig.add_axes([left / W, 1 - (top + height) / H, width / W, height / H])


col_left = [187, 1040, 1894]
panel_w = 754
strip_h = 64
panel_h = 667
row_pitch = 803
block_top = [43, 2541]

for bi, block in enumerate([block_a, block_b]):
    for k, series in enumerate(block):
        r, c = divmod(k, 3)
        top = block_top[bi] + r * row_pitch
        left = col_left[c]
        ax = px_axes(left, top + strip_h, panel_w, panel_h)
        for i, y in enumerate(series):
            ax.plot(time, y, color=colors[i], lw=line_w, zorder=2)
        for i, y in enumerate(series):
            ax.plot(time, y, ls='none', color=colors[i], mec=colors[i], zorder=3,
                    **marker_styles[i])
        ax.set_xlim(-1.95, 40.95)
        ax.set_ylim(-5.25, 110.25)
        ax.set_xticks([0, 10, 20, 30, 40])
        ax.set_yticks([0, 25, 50, 75, 100])
        for s in ['top', 'right']:
            ax.spines[s].set_visible(False)
        for s in ['left', 'bottom']:
            ax.spines[s].set_linewidth(0.8)
        ax.tick_params(length=2.75, width=0.55, color='#333333', labelcolor='#4D4D4D',
                       labelsize=10.4, pad=1.8)

        sx = px_axes(left, top, panel_w, strip_h)
        sx.set_xticks([])
        sx.set_yticks([])
        for s in sx.spines.values():
            s.set_linewidth(0.9)
        sx.text(0.5, 0.5, 'Stress at %s min' % stress_times[k], ha='center', va='center',
                fontsize=10.4, color='#1A1A1A', transform=sx.transAxes)

    # axis titles of the block
    y_mid = block_top[bi] + (2 * row_pitch + strip_h + panel_h) / 2
    fig.text(62 / W, 1 - y_mid / H, 'Amount dissolved [%]', rotation=90, ha='center',
             va='center', fontsize=13)
    x_base = block_top[bi] + 2 * row_pitch + strip_h + panel_h + 107
    fig.text((col_left[0] + col_left[2] + panel_w) / 2 / W, 1 - x_base / H, 'Time [min]',
             ha='center', va='baseline', fontsize=13)

fig.text(41 / W, 1 - 112 / H, 'a', fontsize=17, va='baseline', ha='left')
fig.text(36 / W, 1 - 2583 / H, 'b', fontsize=17, va='baseline', ha='left')

# legend
handles = [Line2D([], [], color=colors[i], lw=line_w, **marker_styles[i]) for i in range(6)]
fig.text(535 / W, 1 - 5090 / H, 'Pressure', fontsize=13, va='center', ha='left')
fig.legend(handles, pressures, loc='center left', bbox_to_anchor=(787 / W, 1 - 5090 / H),
           ncol=3, frameon=False, borderpad=0, borderaxespad=0, handlelength=0.8,
           handletextpad=0.75, columnspacing=0.76, labelspacing=0.05, fontsize=10.6)

fig.savefig('out.png', dpi=DPI)
